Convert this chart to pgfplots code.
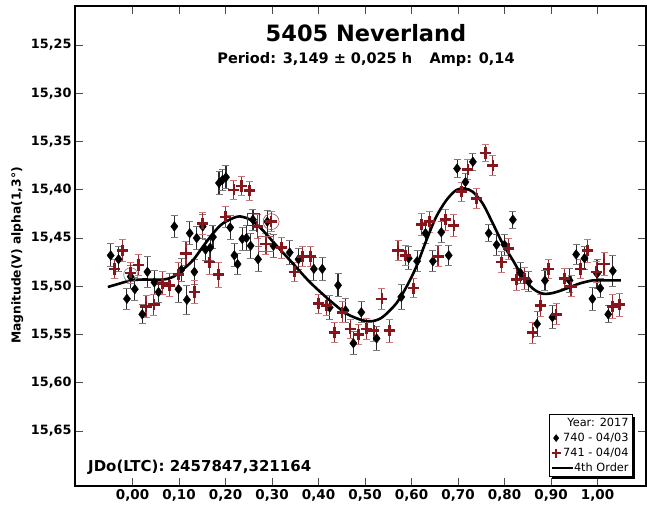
\documentclass[border=0pt]{standalone}
\usepackage{pgfplots}
\pgfplotsset{compat=1.18}
\usepackage{pgfplotstable}
\usepackage{fontspec}
\setmainfont{DejaVu Sans}
\usetikzlibrary{shadows,calc}
\definecolor{dred}{RGB}{135,22,28}
\definecolor{redbar}{RGB}{150,45,50}
\definecolor{redcap}{RGB}{205,120,120}
\definecolor{gbar}{RGB}{45,45,45}
\definecolor{gcap}{RGB}{120,120,120}
\pgfplotsset{
  shortline legend/.style={legend image code/.code={%
    \pgfpathmoveto{\pgfqpoint{0pt}{0pt}}\pgfpathlineto{\pgfqpoint{10pt}{0pt}}\pgfusepath{use as bounding box}%
    \pgfinterruptboundingbox
    \pgfsetlinewidth{1.8pt}\pgfsetstrokecolor{black}%
    \pgfpathmoveto{\pgfqpoint{1pt}{0pt}}\pgfpathlineto{\pgfqpoint{22pt}{0pt}}\pgfusepath{stroke}%
    \endpgfinterruptboundingbox}},
  mark legend/.style={legend image code/.code={%
    \pgfpathmoveto{\pgfqpoint{0pt}{0pt}}\pgfpathlineto{\pgfqpoint{10pt}{0pt}}\pgfusepath{use as bounding box}%
    \draw[##1] plot coordinates {(5pt,0pt)};}},
}

\pgfplotstableread{
x y e
-0.047 15.468 0.012
-0.030 15.472 0.013
-0.012 15.513 0.011
-0.004 15.490 0.012
0.005 15.503 0.012
0.021 15.529 0.010
0.032 15.485 0.016
0.047 15.496 0.012
0.056 15.506 0.011
0.090 15.438 0.011
0.099 15.503 0.014
0.105 15.483 0.012
0.117 15.514 0.015
0.123 15.445 0.012
0.133 15.485 0.013
0.138 15.450 0.012
0.151 15.438 0.012
0.157 15.462 0.011
0.167 15.460 0.013
0.173 15.449 0.012
0.186 15.393 0.012
0.193 15.390 0.011
0.201 15.387 0.012
0.210 15.439 0.012
0.219 15.468 0.012
0.226 15.477 0.011
0.236 15.451 0.012
0.245 15.450 0.013
0.254 15.458 0.013
0.259 15.431 0.011
0.270 15.472 0.013
0.290 15.433 0.012
0.303 15.458 0.012
0.338 15.465 0.012
0.357 15.472 0.011
0.390 15.482 0.012
0.408 15.482 0.012
0.424 15.522 0.012
0.442 15.499 0.012
0.458 15.525 0.012
0.475 15.559 0.012
0.492 15.527 0.011
0.525 15.554 0.012
0.578 15.511 0.013
0.594 15.471 0.012
0.612 15.474 0.011
0.630 15.445 0.011
0.646 15.474 0.011
0.664 15.444 0.011
0.680 15.468 0.010
0.698 15.378 0.009
0.716 15.392 0.009
0.732 15.371 0.009
0.766 15.445 0.009
0.783 15.457 0.011
0.800 15.457 0.011
0.818 15.431 0.009
0.834 15.486 0.011
0.852 15.495 0.010
0.870 15.539 0.013
0.887 15.494 0.010
0.903 15.532 0.012
0.940 15.494 0.012
0.954 15.467 0.010
0.972 15.471 0.012
0.989 15.513 0.012
0.999 15.487 0.015
1.006 15.502 0.010
1.023 15.529 0.009
1.033 15.484 0.016
}\blacktab

\pgfplotstableread{
x y e
-0.039 15.482 0.010
-0.022 15.463 0.011
-0.004 15.486 0.011
0.013 15.478 0.011
0.029 15.521 0.011
0.046 15.519 0.011
0.064 15.497 0.012
0.080 15.499 0.012
0.099 15.488 0.013
0.115 15.466 0.012
0.133 15.506 0.012
0.151 15.435 0.011
0.166 15.475 0.013
0.185 15.488 0.013
0.200 15.428 0.011
0.218 15.400 0.010
0.234 15.396 0.010
0.252 15.401 0.010
0.268 15.438 0.012
0.287 15.456 0.011
0.298 15.433 0.010
0.320 15.460 0.011
0.348 15.485 0.010
0.366 15.469 0.010
0.383 15.469 0.010
0.400 15.518 0.010
0.417 15.520 0.010
0.434 15.548 0.010
0.451 15.527 0.011
0.468 15.544 0.010
0.486 15.550 0.010
0.503 15.544 0.011
0.519 15.546 0.011
0.536 15.513 0.011
0.553 15.546 0.012
0.571 15.463 0.010
0.587 15.468 0.010
0.604 15.502 0.010
0.622 15.436 0.011
0.639 15.433 0.011
0.657 15.469 0.011
0.673 15.431 0.011
0.691 15.437 0.011
0.707 15.402 0.010
0.721 15.379 0.010
0.740 15.409 0.010
0.759 15.362 0.009
0.775 15.375 0.010
0.793 15.475 0.011
0.809 15.461 0.011
0.826 15.493 0.011
0.843 15.492 0.011
0.861 15.548 0.011
0.877 15.520 0.011
0.895 15.482 0.010
0.911 15.529 0.011
0.929 15.492 0.010
0.943 15.500 0.011
0.963 15.482 0.010
0.979 15.463 0.012
0.997 15.485 0.011
1.014 15.477 0.012
1.032 15.521 0.012
1.047 15.519 0.012
}\redtab

\pgfplotstableread{
x y
-0.053 15.5007
-0.028 15.4972
-0.003 15.4938
0.022 15.4930
0.065 15.4930
0.087 15.4903
0.108 15.4827
0.130 15.4730
0.151 15.4592
0.173 15.4453
0.194 15.4349
0.223 15.4281
0.237 15.4281
0.255 15.4315
0.280 15.4419
0.309 15.4575
0.345 15.4764
0.381 15.4955
0.424 15.5145
0.460 15.5283
0.495 15.5353
0.517 15.5360
0.538 15.5318
0.567 15.5179
0.589 15.5007
0.610 15.4800
0.632 15.4523
0.653 15.4281
0.675 15.4108
0.696 15.4004
0.714 15.3986
0.732 15.4022
0.753 15.4142
0.775 15.4350
0.796 15.4557
0.818 15.4730
0.839 15.4903
0.861 15.5024
0.882 15.5076
0.904 15.5069
0.933 15.5024
0.961 15.4972
0.990 15.4938
1.004 15.4938
1.050 15.4938
}\fittab

\begin{document}
\begin{tikzpicture}
\begin{axis}[
  name=ax,
  scale only axis,
  width=571pt, height=480pt,
  xmin=-0.1237, xmax=1.1043,
  ymin=15.2096, ymax=15.7069,
  y dir=reverse,
  axis line style={line width=2pt, black},
  tick align=inside,
  major tick length=8pt,
  every tick/.style={line width=0.8pt, black!70},
  xtick={0,0.1,0.2,0.3,0.4,0.5,0.6,0.7,0.8,0.9,1.0},
  ytick={15.25,15.30,15.35,15.40,15.45,15.50,15.55,15.60,15.65},
  xticklabel pos=lower,
  yticklabel pos=left,
  scaled x ticks=false, scaled y ticks=false,
  /pgf/number format/assume math mode=true,
  xticklabel style={/pgf/number format/.cd, fixed, fixed zerofill, precision=2, use comma, /tikz/.cd, font=\bfseries\fontsize{13.5}{15}\selectfont},
  yticklabel style={/pgf/number format/.cd, fixed, fixed zerofill, precision=2, use comma, /tikz/.cd, font=\bfseries\fontsize{12.8}{15}\selectfont},
  ylabel={Magnitude(V) alpha(1,3°)},
  every axis y label/.style={at={(axis description cs:-0.101,0.48)}, anchor=center, rotate=90, font=\bfseries\fontsize{12.3}{14}\selectfont},
  clip=false,
  legend cell align=right,
  legend style={at={(axis description cs:0.977,0.019)}, anchor=south east,
    draw=black, line width=0.7pt, fill=white,
    font=\fontsize{11.3}{13}\selectfont,
    inner xsep=2pt, inner ysep=1.5pt, row sep=1pt,
    drop shadow={shadow xshift=2.5pt, shadow yshift=-2.5pt, fill=black, opacity=1}},
]
% highlight marks
\addplot[only marks, mark=o, mark size=7pt, gray, line width=0.6pt, forget plot] coordinates {(-0.004,15.488)};
\addplot[only marks, mark=square, mark size=6pt, black!75, line width=0.6pt, forget plot] coordinates {(0.259,15.431)};
\addplot[only marks, mark=o, mark size=8pt, dred!80, line width=0.6pt, forget plot] coordinates {(0.298,15.433)};
\addplot[only marks, mark=square, mark size=7.5pt, dred!70, line width=0.6pt, forget plot] coordinates {(0.287,15.456)};
% black series
\addplot[only marks, mark=diamond*, mark size=4.8pt, black, forget plot,
  error bars/.cd, y dir=both, y explicit,
  error bar style={line width=1.1pt, gbar},
  error mark options={line width=1pt, gcap, mark size=3.5pt, rotate=90}]
  table[x=x, y=y, y error=e] {\blacktab};
% red series
\addplot[only marks, mark=+, mark size=5.6pt, dred, line width=2.5pt, forget plot,
  error bars/.cd, y dir=both, y explicit,
  error bar style={line width=1.1pt, redbar},
  error mark options={line width=1pt, redcap, mark size=3.5pt, rotate=90}]
  table[x=x, y=y, y error=e] {\redtab};
% fit
\addplot[black, line width=2.6pt, smooth, forget plot] table[x=x, y=y] {\fittab};

% legend
\addlegendimage{empty legend}
\addlegendentry{Year: 2017}
\addlegendimage{only marks, mark=diamond*, mark size=3.3pt, black, mark legend}
\addlegendentry{740 - 04/03}
\addlegendimage{only marks, mark=+, mark size=4.5pt, dred, line width=2pt, mark legend}
\addlegendentry{741 - 04/04}
\addlegendimage{shortline legend}
\addlegendentry{4th Order}

\node[font=\bfseries\fontsize{22.5}{25}\selectfont] at (axis description cs:0.5096,0.944) {5405 Neverland};
\node[font=\bfseries\fontsize{14.5}{16}\selectfont] at (axis description cs:0.5096,0.8875) {Period: 3,149 ± 0,025 h\hspace{1.2em}Amp: 0,14};
\node[font=\bfseries\fontsize{15}{17}\selectfont, anchor=west, inner sep=0pt] at (axis description cs:0.0228,0.0396) {JDo(LTC): 2457847,321164};
\end{axis}
\pgfresetboundingbox
\useasboundingbox ($(ax.south west)+(-75pt,-29pt)$) rectangle ($(ax.north east)+(1pt,6pt)$);
\end{tikzpicture}
\end{document}
